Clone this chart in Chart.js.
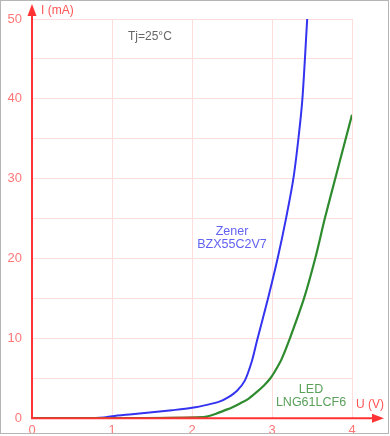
<!DOCTYPE html>
<html>
<head>
<meta charset="utf-8">
<script src="https://cdn.jsdelivr.net/npm/chart.js@4"></script>
<style>
  html, body { margin: 0; padding: 0; background: #fff; }
  #wrap { width: 390px; height: 436px; }
</style>
</head>
<body>
<div id="wrap"><canvas id="diodeChart"></canvas></div>
<script>
// U (V) / I (mA)
const zenerU = [0, 0.7, 0.9, 1.0, 1.25, 1.5, 1.75, 2.0, 2.2, 2.35, 2.45, 2.56, 2.66, 2.75, 2.81, 2.95, 3.07, 3.175, 3.267, 3.33, 3.38, 3.44];
const zenerI = [0, 0, 0.1, 0.25, 0.5, 0.75, 1.0, 1.3, 1.7, 2.1, 2.6, 3.4, 4.7, 7.2, 9.6, 15, 20, 25, 30, 35, 40, 50];

const ledU = [0, 1.0, 1.8, 2.1, 2.2, 2.3, 2.4, 2.5, 2.6, 2.7, 2.8, 2.9, 2.98, 3.05, 3.12, 3.22, 3.40, 3.54, 3.66, 3.79, 4.0];
const ledI = [0, 0, 0.03, 0.1, 0.25, 0.55, 0.95, 1.35, 1.85, 2.4, 3.2, 4.1, 5.0, 6.1, 7.4, 9.9, 15, 20, 25, 30, 38];

const redU = [1.4, 1.8, 2.2];
const redI = [0, 0.05, 0.12];

const xTicks = [0, 1, 2, 3, 4];
const yTicks = [0, 10, 20, 30, 40, 50];

const toPoints = (xs, ys) => xs.map((x, i) => ({ x: x, y: ys[i] }));

const red = '#f33';
const tickRed = '#f77';

const overlay = {
    id: 'overlay',
    beforeDraw(chart) {
        const c = chart.ctx;
        c.save();
        c.fillStyle = '#fff';
        c.fillRect(0, 0, chart.width, chart.height);
        c.restore();
    },
    afterDatasetsDraw(chart) {
        const c = chart.ctx;
        const a = chart.chartArea;
        const x0 = chart.scales.x.getPixelForValue(0);
        const y0 = chart.scales.y.getPixelForValue(0);
        c.save();

        // axes with arrows
        c.strokeStyle = red;
        c.fillStyle = red;
        c.lineWidth = 2;
        c.beginPath();
        c.moveTo(x0, a.bottom + 1);
        c.lineTo(x0, 12);
        c.moveTo(x0 - 1, y0);
        c.lineTo(376, y0);
        c.stroke();
        c.beginPath();
        c.moveTo(x0, 4);
        c.lineTo(x0 - 4.5, 16);
        c.lineTo(x0 + 4.5, 16);
        c.closePath();
        c.fill();
        c.beginPath();
        c.moveTo(384, y0);
        c.lineTo(372, y0 - 4.5);
        c.lineTo(372, y0 + 4.5);
        c.closePath();
        c.fill();

        c.font = '12px "Liberation Sans", Arial, sans-serif';
        c.textBaseline = 'middle';
        c.textAlign = 'left';
        c.fillStyle = '#f55';
        c.fillText('I (mA)', 41, 11);
        c.fillText('U (V)', 356, 405);

        c.fillStyle = '#666';
        c.fillText('Tj=25°C', 128, 37);

        c.textAlign = 'center';
        c.font = '12.5px "Liberation Sans", Arial, sans-serif';
        c.fillStyle = '#6262f2';
        c.fillText('Zener', 232, 232);
        c.fillText('BZX55C2V7', 232, 245);
        c.fillStyle = '#5aa05a';
        c.fillText('LED', 311, 390);
        c.fillText('LNG61LCF6', 311, 403);

        // frame
        c.strokeStyle = '#b5b5b5';
        c.lineWidth = 1;
        c.strokeRect(0.5, 0.5, 388, 433);
        c.restore();
    }
};

new Chart(document.getElementById('diodeChart'), {
    type: 'scatter',
    data: {
        datasets: [
            {
                label: 'LED',
                data: toPoints(ledU, ledI),
                showLine: true,
                borderColor: '#2e8b2e',
                borderWidth: 2.2,
                pointRadius: 0,
                tension: 0.3
            },
            {
                label: 'red',
                data: toPoints(redU, redI),
                showLine: true,
                borderColor: '#f22',
                borderWidth: 2,
                pointRadius: 0
            },
            {
                label: 'Zener',
                data: toPoints(zenerU, zenerI),
                showLine: true,
                borderColor: '#3333f0',
                borderWidth: 2,
                pointRadius: 0,
                tension: 0.3
            }
        ]
    },
    options: {
        responsive: true,
        maintainAspectRatio: false,
        animation: false,
        layout: { padding: { top: 19, right: 38, left: 0, bottom: 0 } },
        plugins: {
            legend: { display: false },
            tooltip: { enabled: false }
        },
        scales: {
            x: {
                type: 'linear',
                min: 0,
                max: 4,
                afterFit: s => { s.height = 17; },
                afterBuildTicks: s => { s.ticks = xTicks.map(v => ({ value: v })); },
                border: { display: false },
                grid: { color: '#fdd', drawTicks: false },
                ticks: {
                    color: tickRed,
                    padding: 4,
                    font: { family: '"Liberation Sans", Arial, sans-serif', size: 13 }
                }
            },
            y: {
                type: 'linear',
                min: 0,
                max: 50,
                afterFit: s => { s.width = 32; },
                border: { display: false },
                grid: { color: '#fdd', drawTicks: false },
                ticks: {
                    stepSize: 5,
                    color: tickRed,
                    padding: 10,
                    font: { family: '"Liberation Sans", Arial, sans-serif', size: 13 },
                    callback: v => yTicks.includes(v) ? String(v) : ''
                }
            }
        }
    },
    plugins: [overlay]
});
</script>
</body>
</html>
